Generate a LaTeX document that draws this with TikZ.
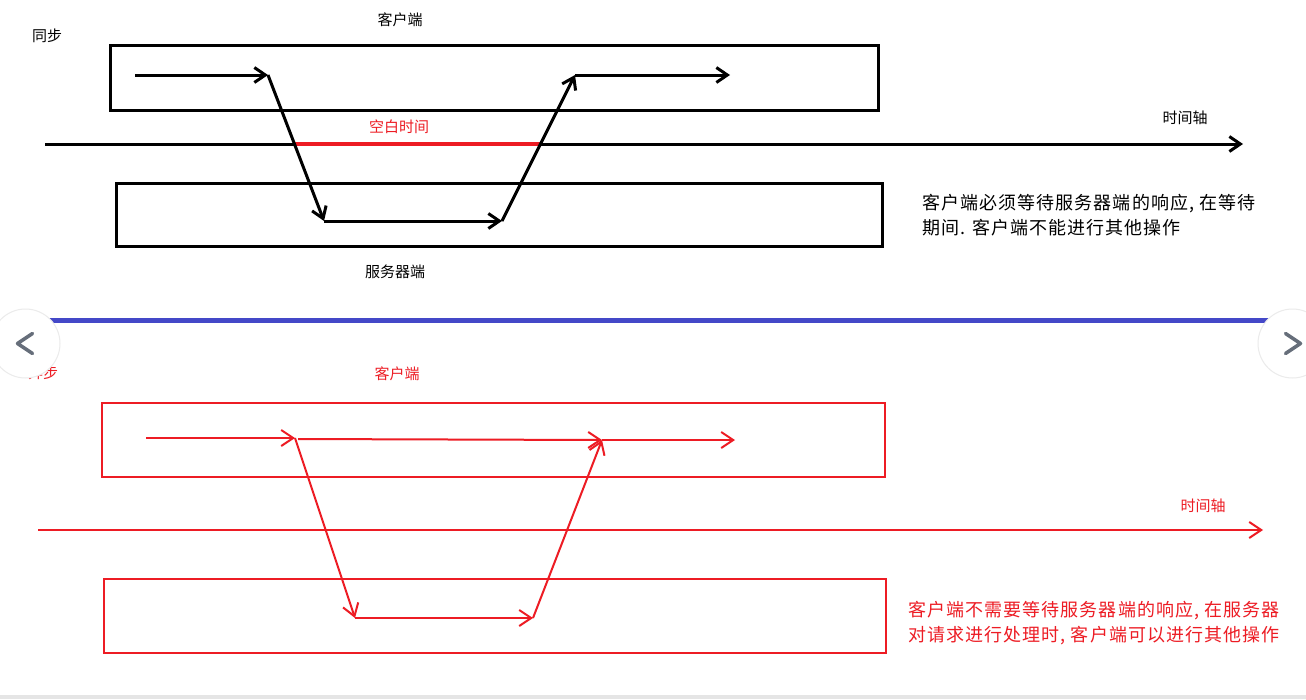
\documentclass[tikz,border=0pt]{standalone}
\usepackage{fontspec}
\newfontfamily\cjk{Noto Sans CJK SC}
\newfontfamily\cjkwide[LetterSpace=6]{Noto Sans CJK SC}
\usetikzlibrary{arrows.meta,positioning}
\definecolor{paintred}{RGB}{237,28,36}
\definecolor{splitblue}{RGB}{68,72,200}
\definecolor{navgray}{RGB}{102,110,122}

\begin{document}
\begin{tikzpicture}[x=1pt,y=-1pt,
  box/.style={draw=black, line width=3pt, inner sep=0pt},
  rbox/.style={draw=paintred, line width=2pt, inner sep=0pt},
  blkline/.style={draw=black, line width=3pt, -{Straight Barb[length=11pt,width=15pt,line width=3pt]}},
  redline/.style={draw=paintred, line width=2pt, -{Straight Barb[length=12pt,width=16pt,line width=2pt]}},
  lbl/.style={font={\cjk\fontsize{15}{18}\selectfont}, inner sep=0pt},
  note/.style={font={\cjkwide\fontsize{18}{25}\selectfont}, align=left, anchor=west, inner sep=0pt},
  navbtn/.style={circle, fill=white, draw=black!8, line width=1pt, minimum size=69pt, inner sep=0pt},
  chev/.style={draw=navgray, line width=3.5pt, line cap=round, line join=round}]
\useasboundingbox (0,0) rectangle (1306,699);
\fill[white] (0,0) rectangle (1306,699);

% synchronous
\node[lbl] (syncname) at (47,36) {同步};
\node[lbl] (synccl) at (400,20) {客户端};
\node[box, minimum width=768pt, minimum height=65pt] (syncclient) at (494,77.5) {};
\node[box, minimum width=766pt, minimum height=63pt] (syncserver) at (499,214.5) {};
\node[lbl] (syncsv) at (395,272) {服务器端};
\node[lbl, text=paintred] (idle) at (399,127) {空白时间};
\node[lbl] (syncaxis) at (1185,118) {时间轴};
\node[note] (syncnote) at (922,215.5) {客户端必须等待服务器端的响应, 在等待\\期间. 客户端不能进行其他操作};

\coordinate (s1) at (135,75);
\coordinate (s2) at (268,75);
\coordinate (s3) at (324,221);
\coordinate (s4) at (502,221);
\coordinate (s5) at (575,75);
\coordinate (s6) at (730,75);
\coordinate (t0) at (45,144);
\coordinate (t1) at (1243,144);
\coordinate (g0) at (294,144);
\coordinate (g1) at (540,144);

\draw[blkline] (t0) -- (t1);
\draw[draw=paintred, line width=3.5pt] (g0) -- (g1);
\draw[blkline] (s1) -- (s2);
\draw[blkline] (s2) -- (s3);
\draw[blkline] (s3) -- (s4);
\draw[blkline] (s4) -- (s5);
\draw[blkline] (s5) -- (s6);

% asynchronous
\node[lbl, text=paintred] (asyncname) at (43,373) {异步};
\node[lbl, text=paintred] (asynccl) at (397,374) {客户端};
\node[rbox, minimum width=783pt, minimum height=74pt] (asyncclient) at (493.5,440) {};
\node[rbox, minimum width=782pt, minimum height=74pt] (asyncserver) at (495,616) {};
\node[lbl, text=paintred] (asyncaxis) at (1203,506) {时间轴};
\node[note, text=paintred] (asyncnote) at (908,623.5) {客户端不需要等待服务器端的响应, 在服务器\\对请求进行处理时, 客户端可以进行其他操作};

\coordinate (a1) at (146,438);
\coordinate (a2) at (295,438);
\coordinate (a3) at (298,439);
\coordinate (a4) at (602,440);
\coordinate (a5) at (735,440);
\coordinate (b1) at (355,618);
\coordinate (b2) at (533,618);
\coordinate (u0) at (38,530);
\coordinate (u1) at (1263,530);

\draw[redline] (u0) -- (u1);
\draw[redline] (a1) -- (a2);
\draw[redline] (a3) -- (a4);
\draw[redline] (a4) -- (a5);
\draw[redline] (a2) -- (b1);
\draw[redline] (b1) -- (b2);
\draw[redline] (b2) -- (a4);

% page parts
\draw[draw=splitblue, line width=5pt] (40,320.5) -- (1270,320.5);
\node[navbtn] (prev) at (25.5,343.5) {};
\node[navbtn] (next) at (1292.5,343.5) {};
\draw[chev] ([xshift=7pt,yshift=-10pt]prev.center) -- ([xshift=-8pt]prev.center) -- ([xshift=7pt,yshift=10pt]prev.center);
\draw[chev] ([xshift=-7pt,yshift=-10pt]next.center) -- ([xshift=8pt]next.center) -- ([xshift=-7pt,yshift=10pt]next.center);
\fill[black!10] (0,695) rectangle (1306,699);
\end{tikzpicture}
\end{document}
